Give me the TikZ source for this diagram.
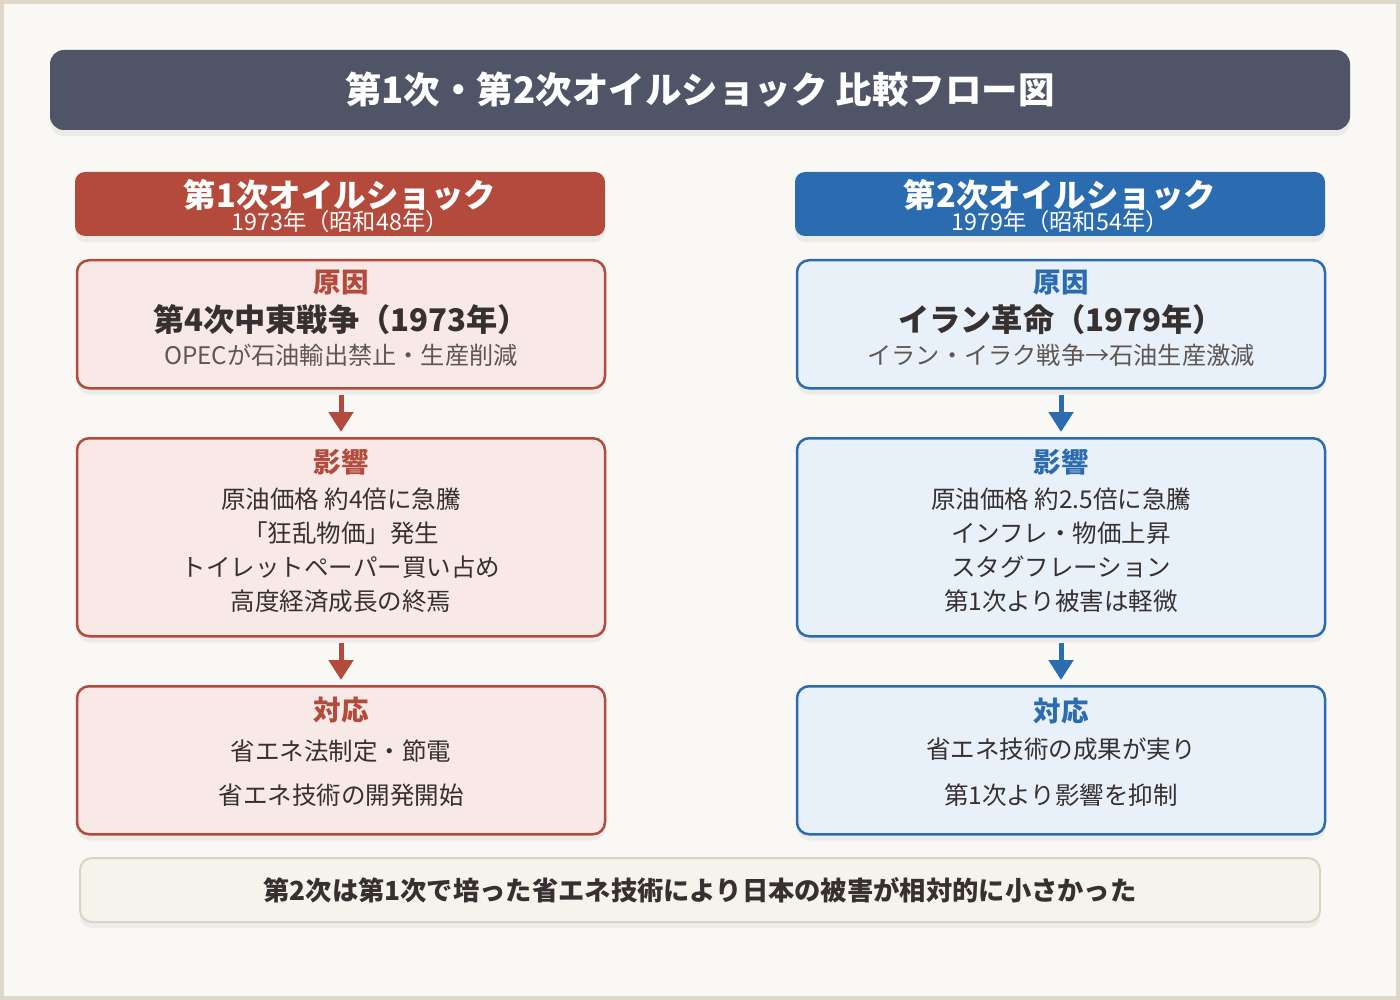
\documentclass[tikz,border=0pt]{standalone}
\usepackage{fontspec}
\setmainfont{Noto Sans CJK JP}
\usetikzlibrary{positioning,arrows.meta,shadows}

\definecolor{paper}{HTML}{F9F8F4}
\definecolor{frame}{HTML}{DED6C9}
\definecolor{slate}{HTML}{4F5567}
\definecolor{shockred}{HTML}{B34A3B}
\definecolor{shockblue}{HTML}{2B6CB0}
\definecolor{redfill}{HTML}{F8E9E7}
\definecolor{bluefill}{HTML}{E8F0FA}
\definecolor{inkdark}{HTML}{363030}
\definecolor{inkgrey}{HTML}{5E5653}
\definecolor{notefill}{HTML}{F6F2EC}
\definecolor{noteline}{HTML}{DDD3C2}

\begin{document}
\begin{tikzpicture}[x=1pt,y=-1pt,
  soft/.style={drop shadow={opacity=0.10, shadow xshift=0pt, shadow yshift=-6pt}},
  header/.style={soft, rounded corners=10pt, minimum width=530pt, minimum height=64pt},
  box/.style={soft, draw, line width=2.5pt, rounded corners=12pt, minimum width=528pt, anchor=north},
  headtxt/.style={text=white, font=\fontsize{32.5}{32.5}\selectfont\bfseries},
  yeartxt/.style={text=white, font=\fontsize{23.3}{23.3}\selectfont},
  kind/.style={font=\fontsize{27.5}{27.5}\selectfont\bfseries},
  cause/.style={text=inkdark, font=\fontsize{31.2}{31.2}\selectfont\bfseries},
  sub/.style={text=inkgrey, font=\fontsize{24.2}{24.2}\selectfont},
  body/.style={text=inkdark, font=\fontsize{24.5}{24.5}\selectfont},
  flow/.style={line width=5pt, shorten <=5pt, shorten >=5pt, -{Triangle[width=24pt,length=20pt]}}
]
  \useasboundingbox (0,0) rectangle (1400,1000);

  % Paper and frame
  \fill[frame] (0,0) rectangle (1400,1000);
  \fill[paper] (4,4) rectangle (1396,996);

  % Title bar
  \node[soft, fill=slate, rounded corners=14pt, minimum width=1300pt, minimum height=80pt,
        text=white, font=\fontsize{36.5}{36.5}\selectfont\bfseries]
    (title) at (700,90) {第1次・第2次オイルショック 比較フロー図};

  % Column headers
  \node[header, fill=shockred]  (headA) at (340,204) {};
  \node[headtxt] (nameA) at (340,195) {第1次オイルショック};
  \node[yeartxt] (yearA) at (340,222) {1973年（昭和48年）};

  \node[header, fill=shockblue] (headB) at (1060,204) {};
  \node[headtxt] (nameB) at (1060,195) {第2次オイルショック};
  \node[yeartxt] (yearB) at (1060,222) {1979年（昭和54年）};

  % First oil shock (left)
  \node[box, draw=shockred, fill=redfill, minimum height=128pt] (causeA) at (341,259) {};
  \node[kind, text=shockred] (causeAk) at (341,283) {原因};
  \node[cause] (causeAm) at (341,320) {第4次中東戦争（1973年）};
  \node[sub]   (causeAs) at (341,355) {OPECが石油輸出禁止・生産削減};

  \node[box, draw=shockred, fill=redfill, minimum height=198pt] (impactA) at (341,437) {};
  \node[kind, text=shockred] (impactAk) at (341,462) {影響};
  \node[body] (impactA1) at (341,499) {原油価格 約4倍に急騰};
  \node[body] (impactA2) at (341,533) {「狂乱物価」発生};
  \node[body] (impactA3) at (341,567) {トイレットペーパー買い占め};
  \node[body] (impactA4) at (341,601) {高度経済成長の終焉};

  \node[box, draw=shockred, fill=redfill, minimum height=148pt] (replyA) at (341,685) {};
  \node[kind, text=shockred] (replyAk) at (341,710) {対応};
  \node[body] (replyA1) at (341,751) {省エネ法制定・節電};
  \node[body] (replyA2) at (341,795) {省エネ技術の開発開始};

  \draw[flow, shockred] (causeA) -- (impactA);
  \draw[flow, shockred] (impactA) -- (replyA);

  % Second oil shock (right)
  \node[box, draw=shockblue, fill=bluefill, minimum height=128pt] (causeB) at (1061,259) {};
  \node[kind, text=shockblue] (causeBk) at (1061,283) {原因};
  \node[cause] (causeBm) at (1061,320) {イラン革命（1979年）};
  \node[sub]   (causeBs) at (1061,355) {イラン・イラク戦争→石油生産激減};

  \node[box, draw=shockblue, fill=bluefill, minimum height=198pt] (impactB) at (1061,437) {};
  \node[kind, text=shockblue] (impactBk) at (1061,462) {影響};
  \node[body] (impactB1) at (1061,499) {原油価格 約2.5倍に急騰};
  \node[body] (impactB2) at (1061,533) {インフレ・物価上昇};
  \node[body] (impactB3) at (1061,567) {スタグフレーション};
  \node[body] (impactB4) at (1061,601) {第1次より被害は軽微};

  \node[box, draw=shockblue, fill=bluefill, minimum height=148pt] (replyB) at (1061,685) {};
  \node[kind, text=shockblue] (replyBk) at (1061,711) {対応};
  \node[body] (replyB1) at (1061,749) {省エネ技術の成果が実り};
  \node[body] (replyB2) at (1061,795) {第1次より影響を抑制};

  \draw[flow, shockblue] (causeB) -- (impactB);
  \draw[flow, shockblue] (impactB) -- (replyB);

  % Conclusion
  \node[soft, draw=noteline, line width=2pt, fill=notefill, rounded corners=12pt,
        minimum width=1240pt, minimum height=64pt,
        text=inkdark, font=\fontsize{26.3}{26.3}\selectfont\bfseries]
    (summary) at (700,890) {第2次は第1次で培った省エネ技術により日本の被害が相対的に小さかった};
\end{tikzpicture}
\end{document}
